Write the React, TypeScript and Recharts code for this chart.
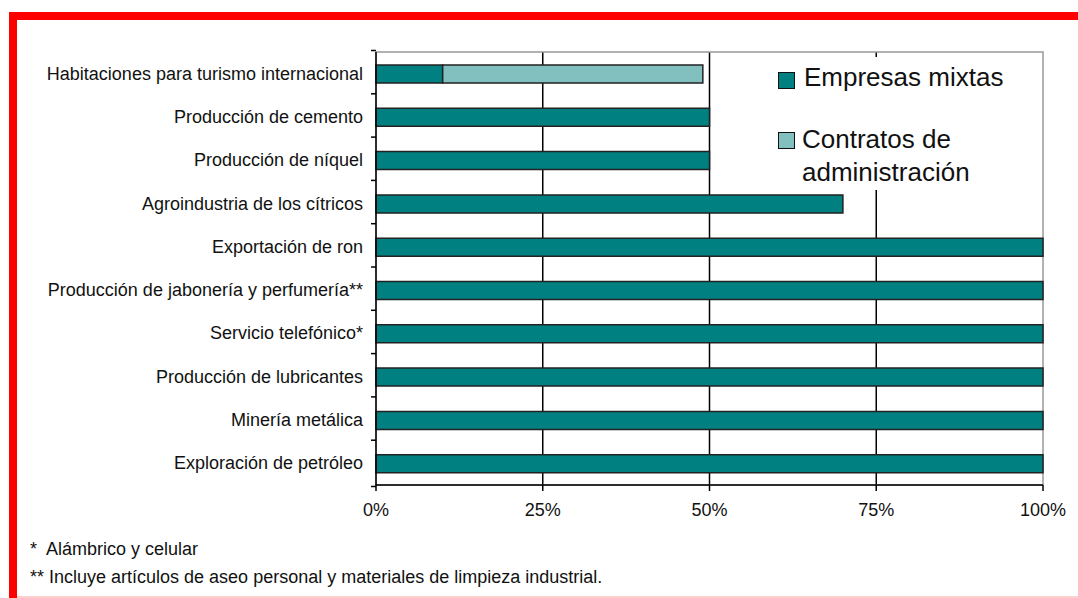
import React from 'react';
import { BarChart, Bar, XAxis, YAxis, CartesianGrid, Legend, ReferenceArea } from 'recharts';

const categories = [
  'Habitaciones para turismo internacional',
  'Producción de cemento',
  'Producción de níquel',
  'Agroindustria de los cítricos',
  'Exportación de ron',
  'Producción de jabonería y perfumería**',
  'Servicio telefónico*',
  'Producción de lubricantes',
  'Minería metálica',
  'Exploración de petróleo',
];
const empresasMixtas = [10, 50, 50, 70, 100, 100, 100, 100, 100, 100];
const contratosAdmin = [39, 0, 0, 0, 0, 0, 0, 0, 0, 0];
const xTicks = [0, 25, 50, 75, 100];
const gridValues = [25, 50, 75];
const footnotes = [
  '*  Alámbrico y celular',
  '** Incluye artículos de aseo personal y materiales de limpieza industrial.',
];

const data = categories.map((name, i) => ({
  name,
  mixtas: empresasMixtas[i],
  contratos: contratosAdmin[i],
}));

const W = 1078;
const H = 598;
const M = { top: 52, right: 35, bottom: 83, left: 0 };
const Y_W = 376;
const BAND = (H - M.top - M.bottom) / categories.length;
const DARK = '#008080';
const LIGHT = '#82C0C0';
const FONT = '"Liberation Sans", Arial, sans-serif';

const CatTick = (props: any) => {
  const { x, y, payload, index } = props;
  const ax = x + 13;
  return (
    <g>
      <text x={x} y={y} textAnchor="end" dominantBaseline="central" fontSize={18} fill="#111" fontFamily={FONT}>
        {payload.value}
      </text>
      <line x1={ax - 5} x2={ax} y1={y - BAND / 2} y2={y - BAND / 2} stroke="#000" strokeWidth={1.5} />
      {index === categories.length - 1 && (
        <line x1={ax - 5} x2={ax} y1={y + BAND / 2} y2={y + BAND / 2} stroke="#000" strokeWidth={1.5} />
      )}
    </g>
  );
};

const LegendBox = () => (
  <div style={{ background: '#fff', width: 331, height: 133, position: 'relative', fontFamily: FONT, color: '#111' }}>
    <div style={{ position: 'absolute', left: 67, top: 15, width: 15, height: 15, background: DARK, border: '1.5px solid #111' }} />
    <div style={{ position: 'absolute', left: 93, top: 5, fontSize: 26, lineHeight: '30px', whiteSpace: 'nowrap' }}>Empresas mixtas</div>
    <div style={{ position: 'absolute', left: 67, top: 75, width: 15, height: 15, background: LIGHT, border: '1.5px solid #111' }} />
    <div style={{ position: 'absolute', left: 91, top: 66, fontSize: 26, lineHeight: '33px', whiteSpace: 'nowrap' }}>
      Contratos de<br />administración
    </div>
  </div>
);

const gridGen = (props: any) => {
  const scale = props?.xAxis?.scale;
  if (scale && typeof scale === 'function') return gridValues.map((v) => scale(v));
  if (scale && typeof scale.map === 'function') return gridValues.map((v) => scale.map(v));
  return [];
};

export default function App() {
  return (
    <div style={{ position: 'absolute', left: 0, top: 0, width: W, height: H, background: '#fff', overflow: 'hidden' }}>
      <div style={{ position: 'absolute', left: 9, top: 12, width: W - 9, height: 8, background: '#ff0000' }} />
      <div style={{ position: 'absolute', left: 9, top: 12, width: 8, height: H - 12, background: '#ff0000' }} />
      <div style={{ position: 'absolute', left: 17, top: 596, width: W - 17, height: 2, background: '#ffd0d0' }} />
      <BarChart
        layout="vertical"
        width={W}
        height={H}
        data={data}
        margin={M}
        barSize={18}
        style={{ position: 'absolute', left: 0, top: 0 }}
      >
        <CartesianGrid horizontal={false} stroke="#000" strokeWidth={1.5} verticalCoordinatesGenerator={gridGen} />
        <ReferenceArea x1={0} x2={100} fill="none" stroke="#999" strokeWidth={1.5} fillOpacity={0} />
        <XAxis
          type="number"
          domain={[0, 100]}
          ticks={xTicks}
          tickFormatter={(v: number) => `${v}%`}
          axisLine={{ stroke: '#000', strokeWidth: 1.5 }}
          tickLine={{ stroke: '#000', strokeWidth: 1.5 }}
          tickSize={6}
          tickMargin={12}
          tick={{ fill: '#111', fontSize: 18, fontFamily: FONT }}
          height={30}
          interval={0}
        />
        <YAxis
          type="category"
          dataKey="name"
          width={Y_W}
          tickSize={5}
          tickMargin={8}
          tickLine={false}
          axisLine={{ stroke: '#000', strokeWidth: 1.5 }}
          tick={<CatTick />}
          interval={0}
        />
        <Legend
          layout="vertical"
          align="center"
          verticalAlign="middle"
          content={<LegendBox />}
          wrapperStyle={{ left: 711, top: 57, width: 331 }}
        />
        <Bar dataKey="mixtas" name="Empresas mixtas" stackId="a" fill={DARK} stroke="#222" strokeWidth={1.5} isAnimationActive={false} />
        <Bar dataKey="contratos" name="Contratos de administración" stackId="a" fill={LIGHT} stroke="#222" strokeWidth={1.5} isAnimationActive={false} />
      </BarChart>
      <div style={{ position: 'absolute', left: 30, top: 535, fontFamily: FONT, fontSize: 18, color: '#111', lineHeight: '28px', whiteSpace: 'pre' }}>
        {footnotes.map((f) => (
          <div key={f}>{f}</div>
        ))}
      </div>
    </div>
  );
}
